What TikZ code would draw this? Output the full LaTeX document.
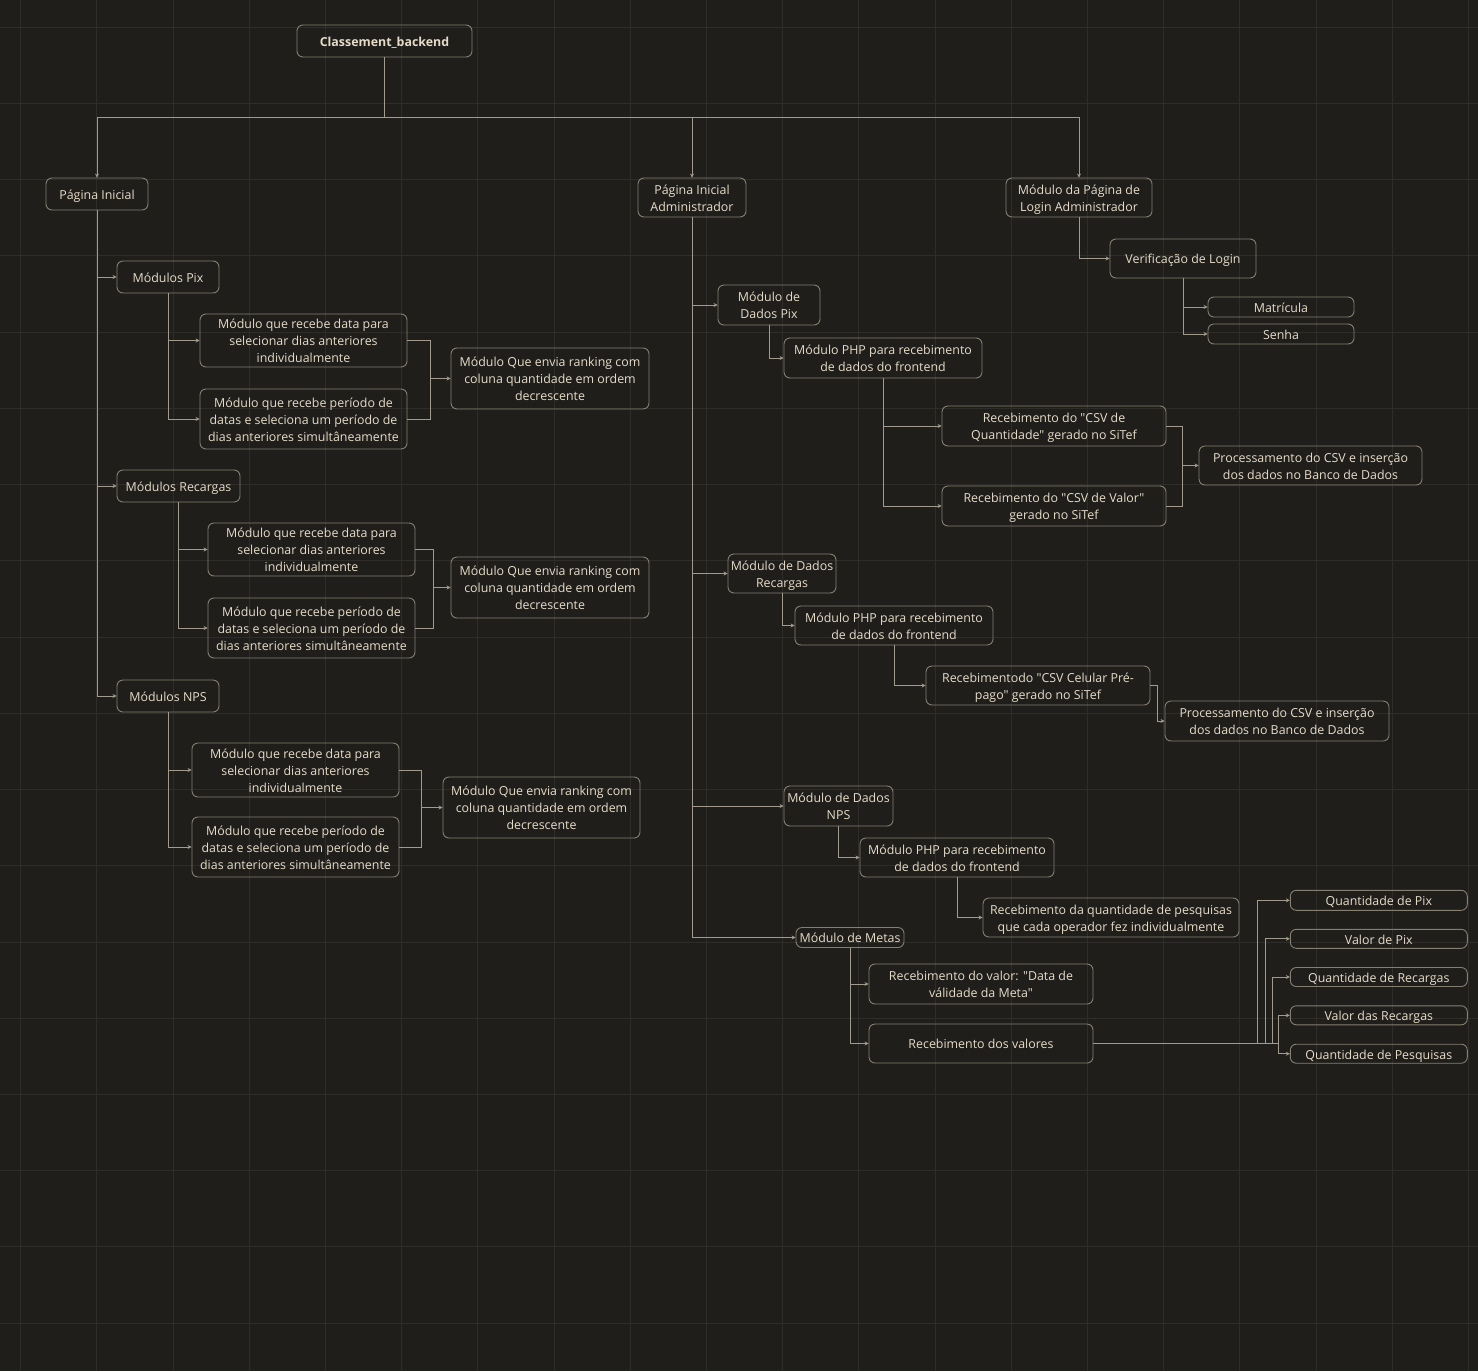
\documentclass[tikz,border=0pt]{standalone}
\usepackage{fontspec}
\setmainfont{Open Sans}[Ligatures=TeXOff]
\usetikzlibrary{arrows.meta}
\definecolor{bgcol}{HTML}{1F1E1B}
\definecolor{gridcol}{HTML}{2E2D2A}
\definecolor{bordercol}{HTML}{857F72}
\definecolor{linecol}{HTML}{A29B8D}
\definecolor{txtcol}{HTML}{E6DCC8}
\tikzset{
  box/.style={draw=bordercol, line width=0.9pt, rounded corners=6pt, text=txtcol,
    align=center, inner sep=0pt, font=\fontsize{12.4}{17}\selectfont},
  conn/.style={draw=linecol, line width=1pt, -{Stealth[length=4pt,width=4pt]}},
  plain/.style={draw=linecol, line width=1pt},
}
\newcommand{\bx}[6]{\node[box, minimum width=#3pt, minimum height=#4pt] (#1) at (#5,#6) {\raisebox{-2pt}[\height][\depth]{\begin{tabular}{@{}c@{}}#2\end{tabular}}};}
\begin{document}
\begin{tikzpicture}[x=1pt,y=-1pt]
\fill[bgcol] (0,0) rectangle (1478,1371);
\useasboundingbox (0,0) rectangle (1478,1371);
\foreach \k in {0,...,19} {\draw[gridcol, line width=1pt] ({20.7+76.2*\k},0) -- ({20.7+76.2*\k},1371);}
\foreach \k in {0,...,17} {\draw[gridcol, line width=1pt] (0,{27.3+76.23*\k}) -- (1478,{27.3+76.23*\k});}

% nodes
\bx{root}{\textbf{Classement\_backend}}{175}{32}{384.5}{41}
\bx{pi}{Página Inicial}{102}{32}{97}{194}
\bx{adm}{Página Inicial\\Administrador}{108}{39}{692}{197.5}
\bx{login}{Módulo da Página de\\Login Administrador}{146}{39}{1079}{197.5}
\bx{verif}{Verificação de Login}{146}{39}{1183}{258.5}
\bx{mat}{Matrícula}{146}{20}{1281}{307}
\bx{senha}{Senha}{146}{20}{1281}{334}

\bx{mpix}{Módulos Pix}{102}{32}{168}{277}
\bx{pixA}{Módulo que recebe data para\\selecionar dias anteriores\\individualmente}{207}{53}{303.5}{340.5}
\bx{pixB}{Módulo que recebe período de\\datas e seleciona um período de\\dias anteriores simultâneamente}{207}{60}{303.5}{419}
\bx{pixR}{Módulo Que envia ranking com\\coluna quantidade em ordem\\decrescente}{198}{61}{550}{378.5}

\bx{mrec}{Módulos Recargas}{123}{32}{178.5}{486}
\bx{recA}{Módulo que recebe data para\\selecionar dias anteriores\\individualmente}{207}{53}{311.5}{549.5}
\bx{recB}{Módulo que recebe período de\\datas e seleciona um período de\\dias anteriores simultâneamente}{207}{60}{311.5}{628}
\bx{recR}{Módulo Que envia ranking com\\coluna quantidade em ordem\\decrescente}{198}{61}{550}{587.5}

\bx{mnps}{Módulos NPS}{102}{32}{168}{696}
\bx{npsA}{Módulo que recebe data para\\selecionar dias anteriores\\individualmente}{207}{54}{295.5}{770}
\bx{npsB}{Módulo que recebe período de\\datas e seleciona um período de\\dias anteriores simultâneamente}{207}{60}{295.5}{847}
\bx{npsR}{Módulo Que envia ranking com\\coluna quantidade em ordem\\decrescente}{197}{61}{541.5}{807.5}

\bx{dpix}{Módulo de\\Dados Pix}{102}{40}{769}{305}
\bx{phppix}{Módulo PHP para recebimento\\de dados do frontend}{198}{40}{883}{358}
\bx{csvq}{Recebimento do "CSV de\\Quantidade" gerado no SiTef}{224}{40}{1054}{426}
\bx{csvv}{Recebimento do "CSV de Valor"\\gerado no SiTef}{224}{40}{1054}{506}
\bx{procpix}{Processamento do CSV e inserção\\dos dados no Banco de Dados}{223}{39}{1310.5}{465.5}

\bx{drec}{Módulo de Dados\\Recargas}{108}{39}{782}{573.5}
\bx{phprec}{Módulo PHP para recebimento\\de dados do frontend}{198}{39}{894}{625.5}
\bx{cel}{Recebimentodo "CSV Celular Pré-\\pago" gerado no SiTef}{224}{39}{1038}{685.5}
\bx{procrec}{Processamento do CSV e inserção\\dos dados no Banco de Dados}{224}{40}{1277}{721}

\bx{dnps}{Módulo de Dados\\NPS}{109}{40}{838.5}{806}
\bx{phpnps}{Módulo PHP para recebimento\\de dados do frontend}{194}{39}{957}{857.5}
\bx{pesq}{Recebimento da quantidade de pesquisas\\que cada operador fez individualmente}{256}{39}{1111}{917.5}

\bx{metas}{Módulo de Metas}{108}{20}{850}{937.5}
\bx{val}{Recebimento do valor: "Data de\\válidade da Meta"}{224}{40}{981}{984}
\bx{vals}{Recebimento dos valores}{224}{39}{981}{1043.5}
\bx{q1}{Quantidade de Pix}{177}{20}{1378.8}{900.3}
\bx{q2}{Valor de Pix}{177}{19}{1378.8}{938.8}
\bx{q3}{Quantidade de Recargas}{177}{19}{1378.8}{977}
\bx{q4}{Valor das Recargas}{177}{19}{1378.8}{1015.3}
\bx{q5}{Quantidade de Pesquisas}{177}{19}{1378.8}{1053.7}

% hub coordinates
\coordinate (hub) at (384.5,117);
\coordinate (pixM) at (430,378.5);
\coordinate (recM) at (433.5,587.5);
\coordinate (npsM) at (421,807.5);
\coordinate (csvM) at (1182,465.5);
\coordinate (celK) at (1157.6,685.5);
\coordinate (f1) at (1257.7,1043.5);
\coordinate (f2) at (1265,1043.5);
\coordinate (f3) at (1272,1043.5);
\coordinate (f4) at (1278.7,1043.5);

% top level
\draw[plain] (root.south) -- (hub);
\draw[conn] (hub) -| (pi.north);
\draw[conn] (hub) -| (adm.north);
\draw[conn] (hub) -| (login.north);

% login
\draw[conn] (login.south) |- (verif.west);
\draw[conn] (verif.south) |- (mat.west);
\draw[conn] (verif.south) |- (senha.west);

% pagina inicial
\draw[conn] (pi.south) |- (mpix.west);
\draw[conn] (pi.south) |- (mrec.west);
\draw[conn] (pi.south) |- (mnps.west);

\draw[conn] (mpix.south) |- (pixA.west);
\draw[conn] (mpix.south) |- (pixB.west);
\draw[plain] (pixA.east) -| (pixM);
\draw[plain] (pixB.east) -| (pixM);
\draw[conn] (pixM) -- (pixR.west);

\draw[conn] (mrec.south) |- (recA.west);
\draw[conn] (mrec.south) |- (recB.west);
\draw[plain] (recA.east) -| (recM);
\draw[plain] (recB.east) -| (recM);
\draw[conn] (recM) -- (recR.west);

\draw[conn] (mnps.south) |- (npsA.west);
\draw[conn] (mnps.south) |- (npsB.west);
\draw[plain] (npsA.east) -| (npsM);
\draw[plain] (npsB.east) -| (npsM);
\draw[conn] (npsM) -- (npsR.west);

% administrador
\draw[conn] (adm.south) |- (dpix.west);
\draw[conn] (adm.south) |- (drec.west);
\draw[conn] (adm.south) |- (dnps.west);
\draw[conn] (adm.south) |- (metas.west);

\draw[conn] (dpix.south) |- (phppix.west);
\draw[conn] (phppix.south) |- (csvq.west);
\draw[conn] (phppix.south) |- (csvv.west);
\draw[plain] (csvq.east) -| (csvM);
\draw[plain] (csvv.east) -| (csvM);
\draw[conn] (csvM) -- (procpix.west);

\draw[conn] (drec.south) |- (phprec.west);
\draw[conn] (phprec.south) |- (cel.west);
\draw[plain] (cel.east) -- (celK);
\draw[conn] (celK) |- (procrec.west);

\draw[conn] (dnps.south) |- (phpnps.west);
\draw[conn] (phpnps.south) |- (pesq.west);

\draw[conn] (metas.south) |- (val.west);
\draw[conn] (metas.south) |- (vals.west);
\draw[plain] (vals.east) -- (f4);
\draw[conn] (f1) |- (q1.west);
\draw[conn] (f2) |- (q2.west);
\draw[conn] (f3) |- (q3.west);
\draw[conn] (f4) |- (q4.west);
\draw[conn] (f4) |- (q5.west);
\end{tikzpicture}
\end{document}
